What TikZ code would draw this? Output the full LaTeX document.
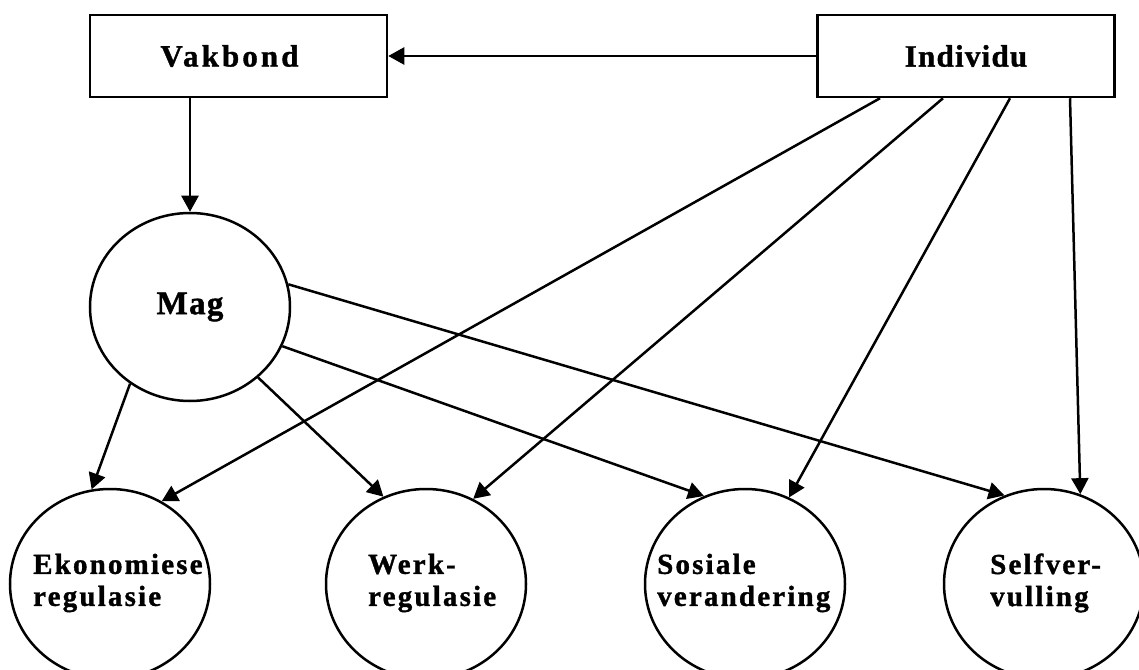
\documentclass[tikz,border=0pt]{standalone}
\usepackage{fontspec}
\newfontface\lblwide{Liberation Serif Bold}[LetterSpace=10,FakeBold=1.2]
\newfontface\lblmid{Liberation Serif Bold}[LetterSpace=7.5,FakeBold=1.2]
\newfontface\lblnarrow{Liberation Serif Bold}[LetterSpace=4,FakeBold=1.2]
\usetikzlibrary{arrows.meta,shapes.geometric}
\begin{document}
\begin{tikzpicture}[x=1bp,y=-1bp,
  conn/.style={line width=2.5bp,-{Triangle[length=16bp,width=17bp]}},
  box/.style={draw,line width=2.5bp,minimum width=297bp,minimum height=82bp,inner sep=0pt},
  oval/.style={draw,ellipse,line width=2.5bp,minimum width=200bp,minimum height=190bp,inner sep=0pt},
  txt/.style={inner sep=0pt,align=left,anchor=west,font=\lblmid\fontsize{29bp}{32bp}\selectfont}]
\useasboundingbox (0,0) rectangle (1139,670);

% top row: the two boxes
\node[box,font=\lblwide\fontsize{31bp}{36bp}\selectfont] (vak) at (238.5,56) {Vakbond\hspace*{18bp}};
\node[box,font=\lblnarrow\fontsize{31bp}{36bp}\selectfont] (ind) at (966,56) {Individu};

% power
\node[oval,minimum height=188bp,font=\lblnarrow\fontsize{33bp}{38bp}\selectfont] (mag) at (190,307) {Mag};

% outcomes
\node[oval] (eko)  at (110,584) {};
\node[oval] (werk) at (426,584) {};
\node[oval] (sos)  at (745,584) {};
\node[oval] (self) at (1044,584) {};

\node[txt] (ekot)  at (33,583)  {Ekonomiese\\regulasie};
\node[txt] (werkt) at (368,583) {Werk-\\regulasie};
\node[txt] (sost)  at (657,583) {Sosiale\\verandering};
\node[txt] (selft) at (990,583) {Selfver-\\vulling};

% exits on the lower edge of the Individu box
\coordinate (i1) at ([xshift=-86bp]ind.south);
\coordinate (i2) at ([xshift=-23bp]ind.south);
\coordinate (i3) at ([xshift=44bp]ind.south);
\coordinate (i4) at ([xshift=104bp]ind.south);

% connectors
\draw[conn] (ind.west) -- (vak.east);
\draw[conn] (mag.north |- vak.south) -- (mag.north);

\draw[conn] (mag.232) -- (eko.101);
\draw[conn] (mag.314) -- (werk.116);
\draw[conn] (mag.337) -- (sos.115);
\draw[conn] (mag.13)  -- (self.114);

\draw[conn] (i1) -- (eko.58);
\draw[conn] (i2) -- (werk.61);
\draw[conn] (i3) -- (sos.63);
\draw[conn] (i4) -- (self.68);
\end{tikzpicture}
\end{document}
